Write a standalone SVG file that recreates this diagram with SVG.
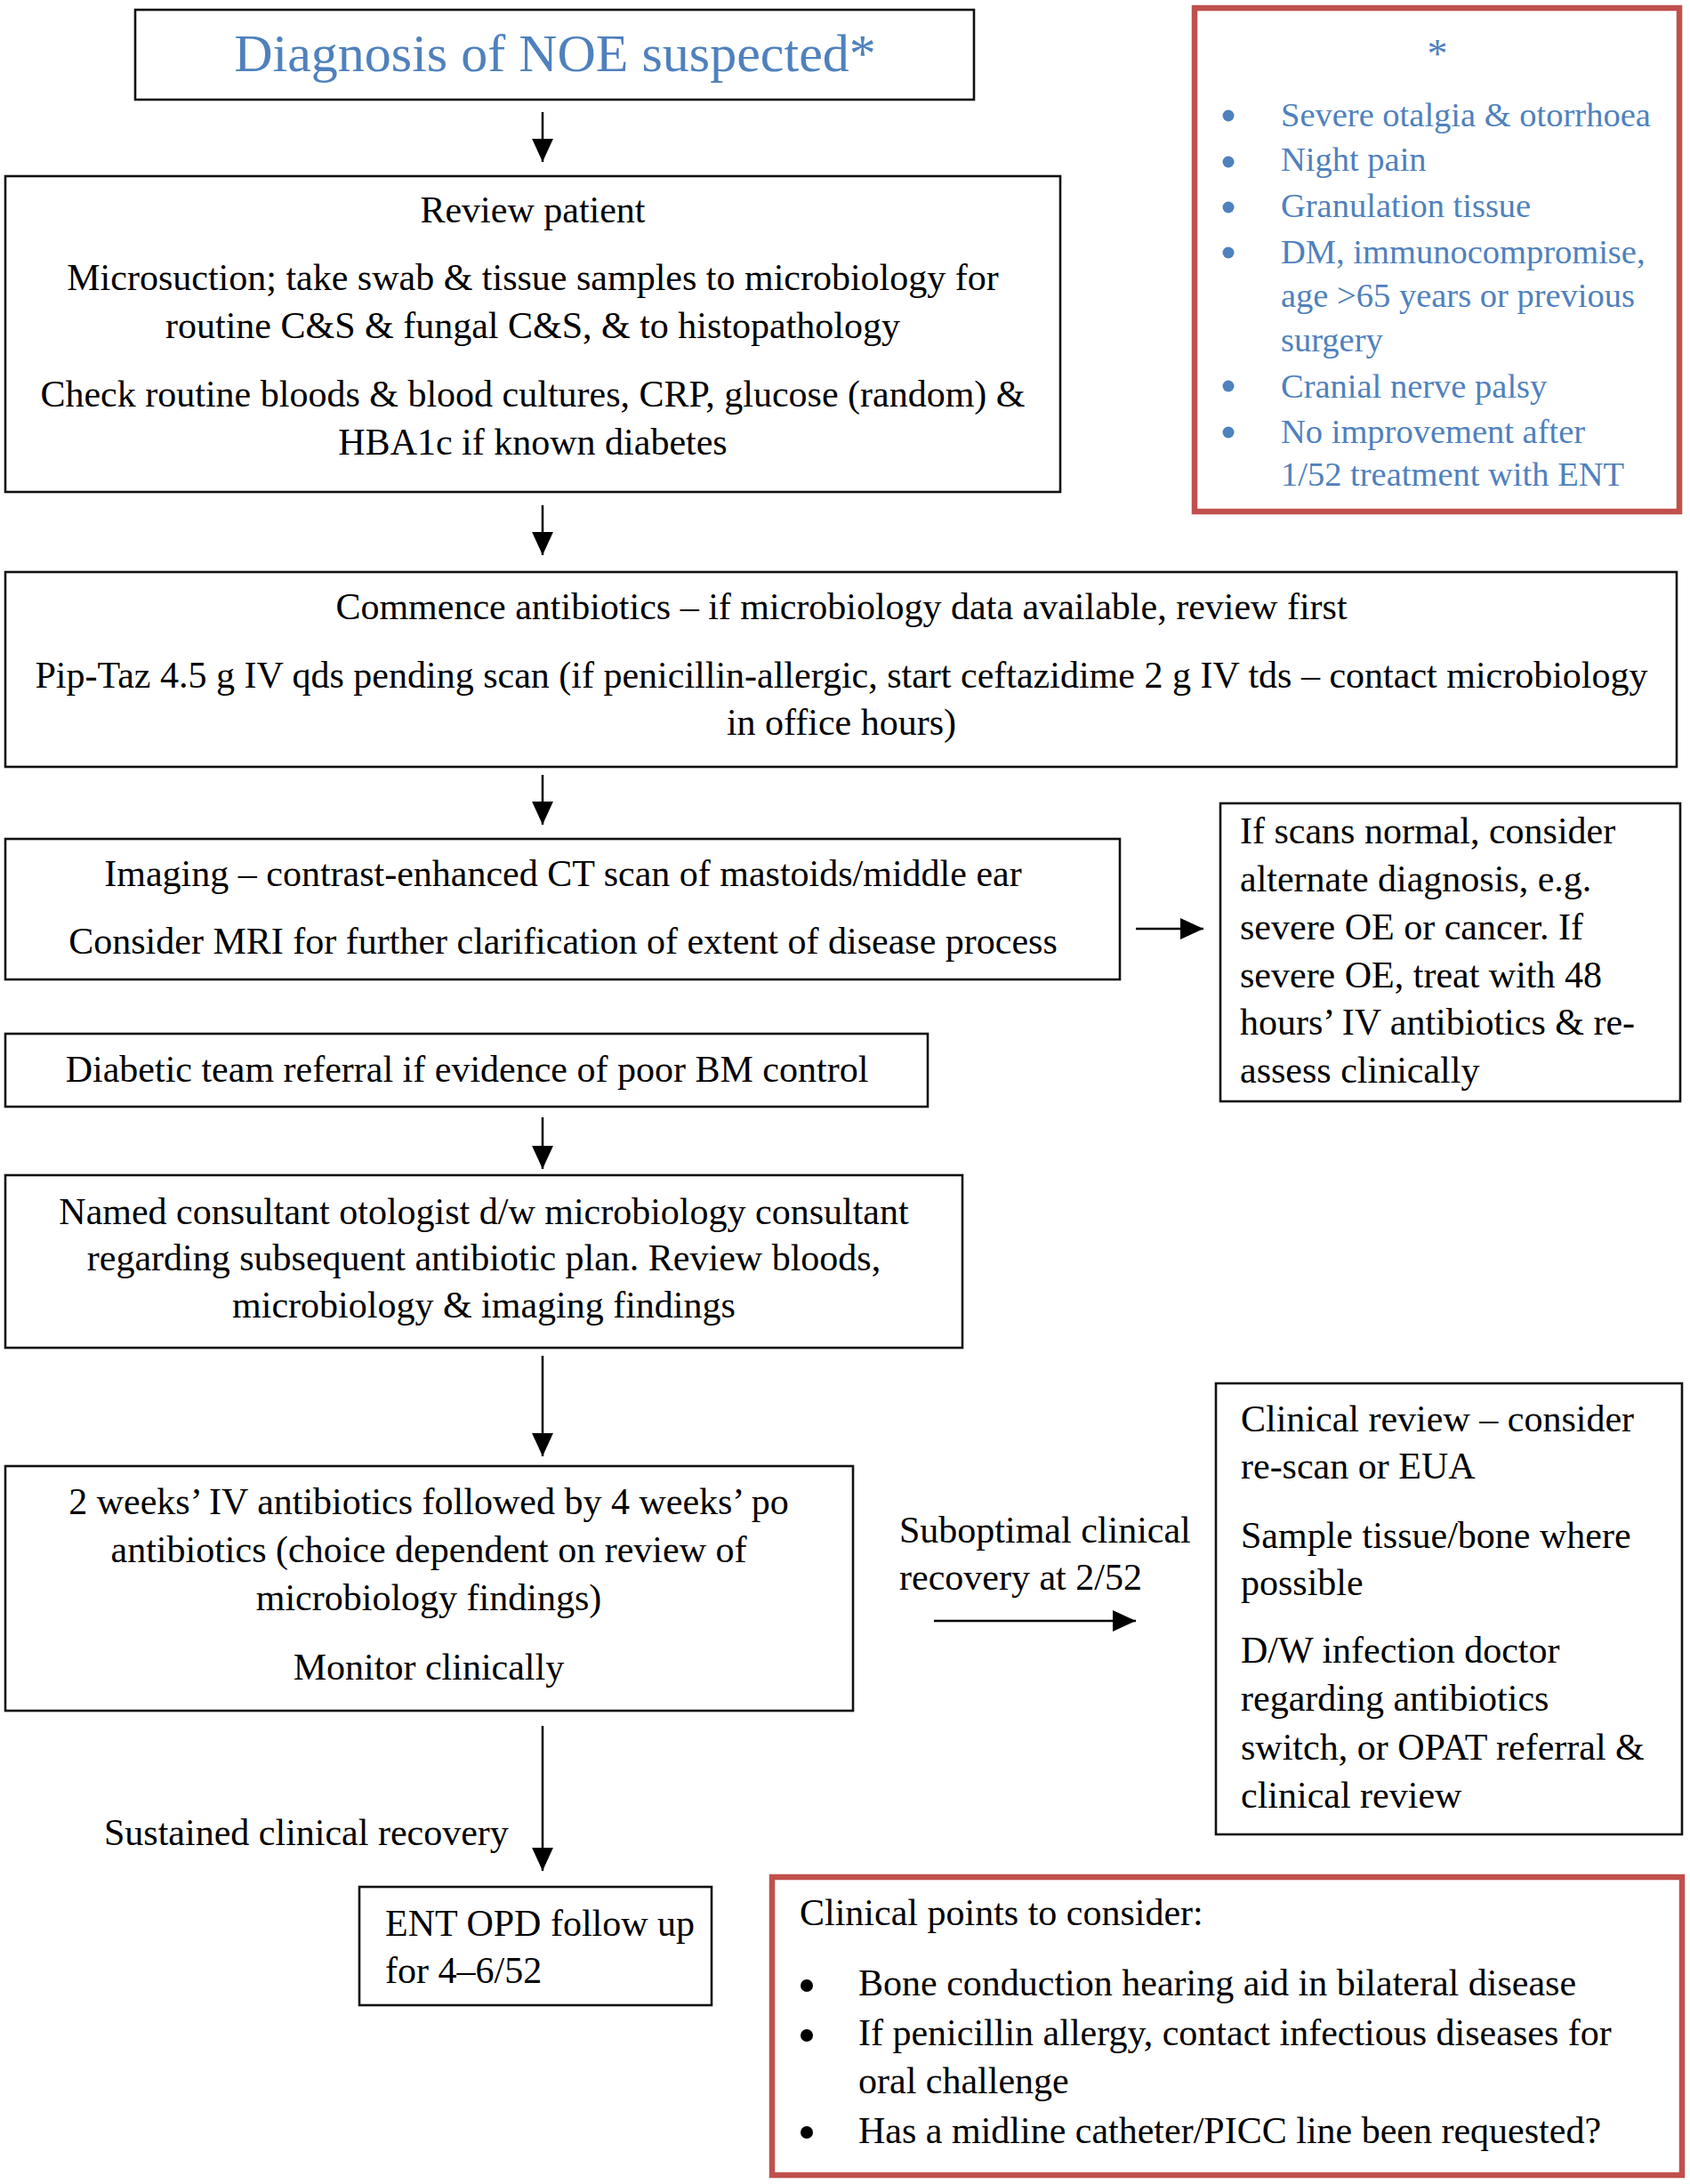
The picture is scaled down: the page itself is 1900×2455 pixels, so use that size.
<svg xmlns="http://www.w3.org/2000/svg" width="1900" height="2455" viewBox="0 0 1900 2455">
<style>
text{font-family:"Liberation Serif","Times New Roman",serif;font-size:42px;fill:#000}
.c{text-anchor:middle}
.blue{fill:#4F81BD}
.star{font-size:38.5px;fill:#4F81BD}
.box{fill:#fff;stroke:#111;stroke-width:2.6}
.redbox{fill:#fff;stroke:#C0504D;stroke-width:6.5}
.conn{stroke:#000;stroke-width:2.5;fill:none;marker-end:url(#ah)}
</style>
<defs>
<marker id="ah" markerUnits="userSpaceOnUse" markerWidth="26" markerHeight="26" viewBox="0 0 24 24" refX="24" refY="12" orient="auto">
<path d="M0,1 L24,12 L0,23 Z" fill="#000"/>
</marker>
</defs>
<rect width="1900" height="2455" fill="#fff"/>

<g id="connectors">
<line class="conn" x1="610" y1="126" x2="610" y2="182"/>
<line class="conn" x1="610" y1="568" x2="610" y2="624"/>
<line class="conn" x1="610" y1="871" x2="610" y2="927"/>
<line class="conn" x1="1277" y1="1044" x2="1353" y2="1044"/>
<line class="conn" x1="610" y1="1256" x2="610" y2="1314"/>
<line class="conn" x1="610" y1="1524" x2="610" y2="1637"/>
<line class="conn" x1="1050" y1="1822" x2="1277" y2="1822"/>
<line class="conn" x1="610" y1="1940" x2="610" y2="2103"/>
<text id="lbl-suboptimal" x="1011" y="1734">Suboptimal clinical</text>
<text x="1011" y="1787">recovery at 2/52</text>
<text id="lbl-sustained" x="117" y="2074">Sustained clinical recovery</text>
</g>

<g id="n-title">
<rect class="box" x="152" y="11" width="943" height="101"/>
<text class="c blue" x="624" y="80" style="font-size:60px">Diagnosis of NOE suspected*</text>
</g>

<g id="n-star">
<rect class="redbox" x="1343" y="9" width="545" height="566"/>
<text class="c blue" x="1616" y="76" style="font-size:46px">*</text>
<g fill="#4F81BD">
<circle cx="1381" cy="130" r="6.5"/>
<circle cx="1381" cy="182" r="6.5"/>
<circle cx="1381" cy="233" r="6.5"/>
<circle cx="1381" cy="284" r="6.5"/>
<circle cx="1381" cy="434" r="6.5"/>
<circle cx="1381" cy="486" r="6.5"/>
</g>
<text class="star" x="1440" y="142">Severe otalgia &amp; otorrhoea</text>
<text class="star" x="1440" y="192">Night pain</text>
<text class="star" x="1440" y="244">Granulation tissue</text>
<text class="star" x="1440" y="296">DM, immunocompromise,</text>
<text class="star" x="1440" y="345">age &gt;65 years or previous</text>
<text class="star" x="1440" y="395">surgery</text>
<text class="star" x="1440" y="447">Cranial nerve palsy</text>
<text class="star" x="1440" y="498">No improvement after</text>
<text class="star" x="1440" y="546">1/52 treatment with ENT</text>
</g>

<g id="n-review">
<rect class="box" x="6" y="198" width="1186" height="355"/>
<text class="c" x="599" y="250">Review patient</text>
<text class="c" x="599" y="326">Microsuction; take swab &amp; tissue samples to microbiology for</text>
<text class="c" x="599" y="380">routine C&amp;S &amp; fungal C&amp;S, &amp; to histopathology</text>
<text class="c" x="599" y="457">Check routine bloods &amp; blood cultures, CRP, glucose (random) &amp;</text>
<text class="c" x="599" y="511">HBA1c if known diabetes</text>
</g>

<g id="n-antibiotics">
<rect class="box" x="6" y="643" width="1879" height="219"/>
<text class="c" x="946" y="696">Commence antibiotics – if microbiology data available, review first</text>
<text class="c" x="946" y="773">Pip-Taz 4.5 g IV qds pending scan (if penicillin-allergic, start ceftazidime 2 g IV tds – contact microbiology</text>
<text class="c" x="946" y="826">in office hours)</text>
</g>

<g id="n-imaging">
<rect class="box" x="6" y="943" width="1253" height="158"/>
<text class="c" x="633" y="996">Imaging – contrast-enhanced CT scan of mastoids/middle ear</text>
<text class="c" x="633" y="1072">Consider MRI for further clarification of extent of disease process</text>
</g>

<g id="n-scans">
<rect class="box" x="1372" y="903" width="517" height="335"/>
<text x="1394" y="948">If scans normal, consider</text>
<text x="1394" y="1002">alternate diagnosis, e.g.</text>
<text x="1394" y="1056">severe OE or cancer. If</text>
<text x="1394" y="1110">severe OE, treat with 48</text>
<text x="1394" y="1163">hours’ IV antibiotics &amp; re-</text>
<text x="1394" y="1217">assess clinically</text>
</g>

<g id="n-diabetic">
<rect class="box" x="6" y="1162" width="1037" height="82"/>
<text class="c" x="525" y="1216">Diabetic team referral if evidence of poor BM control</text>
</g>

<g id="n-named">
<rect class="box" x="6" y="1321" width="1076" height="194"/>
<text class="c" x="544" y="1376">Named consultant otologist d/w microbiology consultant</text>
<text class="c" x="544" y="1428">regarding subsequent antibiotic plan. Review bloods,</text>
<text class="c" x="544" y="1481">microbiology &amp; imaging findings</text>
</g>

<g id="n-twoweeks">
<rect class="box" x="6" y="1648" width="953" height="275"/>
<text class="c" x="482" y="1702">2 weeks’ IV antibiotics followed by 4 weeks’ po</text>
<text class="c" x="482" y="1756">antibiotics (choice dependent on review of</text>
<text class="c" x="482" y="1810">microbiology findings)</text>
<text class="c" x="482" y="1888">Monitor clinically</text>
</g>

<g id="n-clinreview">
<rect class="box" x="1367" y="1555" width="524" height="507"/>
<text x="1395" y="1609">Clinical review – consider</text>
<text x="1395" y="1662">re-scan or EUA</text>
<text x="1395" y="1740">Sample tissue/bone where</text>
<text x="1395" y="1793">possible</text>
<text x="1395" y="1869">D/W infection doctor</text>
<text x="1395" y="1923">regarding antibiotics</text>
<text x="1395" y="1978">switch, or OPAT referral &amp;</text>
<text x="1395" y="2032">clinical review</text>
</g>

<g id="n-ent">
<rect class="box" x="404" y="2121" width="396" height="133"/>
<text x="433" y="2176">ENT OPD follow up</text>
<text x="433" y="2229">for 4–6/52</text>
</g>

<g id="n-points">
<rect class="redbox" x="868" y="2110" width="1023" height="335"/>
<text x="899" y="2164">Clinical points to consider:</text>
<circle cx="907" cy="2232" r="7"/>
<circle cx="907" cy="2288" r="7"/>
<circle cx="907" cy="2397" r="7"/>
<text x="965" y="2243">Bone conduction hearing aid in bilateral disease</text>
<text x="965" y="2299">If penicillin allergy, contact infectious diseases for</text>
<text x="965" y="2353">oral challenge</text>
<text x="965" y="2409">Has a midline catheter/PICC line been requested?</text>
</g>
</svg>
